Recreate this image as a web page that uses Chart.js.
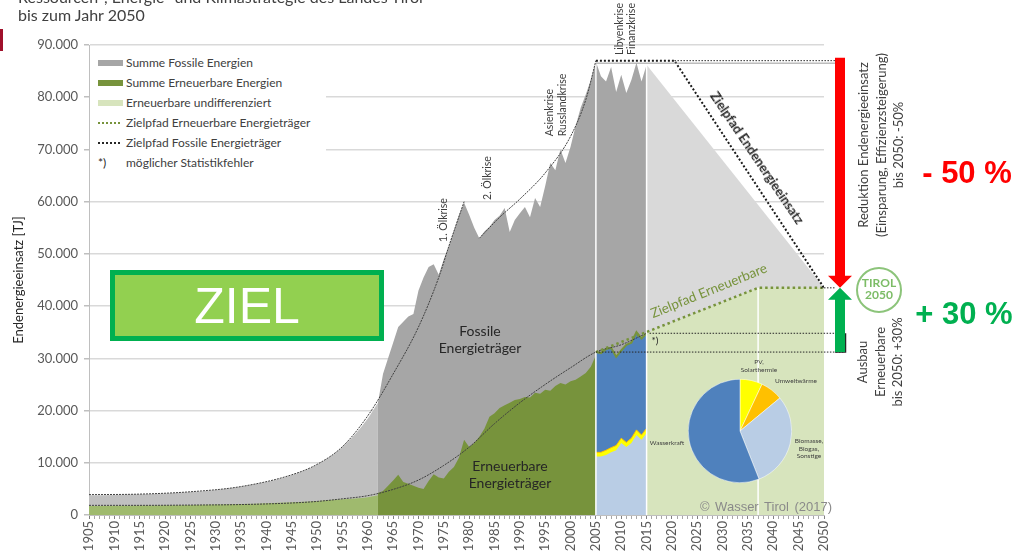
<!DOCTYPE html>
<html lang="de">
<head>
<meta charset="utf-8">
<title>Endenergieeinsatz Tirol 1905–2050</title>
<script src="https://cdn.jsdelivr.net/npm/chart.js@4.4.1/dist/chart.umd.min.js"></script>
<style>
  body { margin: 0; background: #fff; }
  #wrap { position: relative; width: 1017px; height: 555px; overflow: hidden; font-family: Lato, "Open Sans", sans-serif; color: #404040; }
  #wrap canvas { position: absolute; left: 0; top: 0; }
  .t { position: absolute; white-space: nowrap; line-height: 1; transform: translate(-50%, -50%); text-align: center; }
  .r90 { transform: translate(-50%, -50%) rotate(-90deg); }
  #legend { position: absolute; left: 90px; top: 50px; width: 236px; height: 124px; background: #fff; font-size: 12px; color: #404040; }
  .li { position: absolute; left: 8px; height: 20px; line-height: 20px; display: flex; align-items: center; white-space: nowrap; }
  .sw { display: inline-block; width: 25px; height: 6px; margin-right: 3px; }
  .dot { display: inline-block; width: 22px; height: 0; border-top: 2px dotted; margin-right: 6px; }
  #ziel { position: absolute; left: 110px; top: 270px; width: 274px; height: 71px; box-sizing: border-box; border: 5px solid #00b050; background: #92d050; color: #fff; font: 50px "Liberation Sans", Arial, sans-serif; text-align: center; line-height: 62px; }
  #logo { position: absolute; left: 856px; top: 267px; width: 46px; height: 46px; box-sizing: border-box; border: 2px solid #8cc47a; border-radius: 50%; color: #7cbc66; font-weight: bold; font-size: 12px; text-align: center; line-height: 12px; padding-top: 8px; }
  .big { font: bold 31px "Liberation Sans", Arial, sans-serif; }
</style>
</head>
<body>
<div id="wrap">
  <canvas id="main" width="1017" height="555"></canvas>
  <canvas id="pie" width="104" height="104" style="left:688px; top:379px;"></canvas>

  <div style="position:absolute; left:18px; top:-12px; font-size:16px; line-height:18px; color:#404040;">Ressourcen-, Energie- und Klimastrategie des Landes Tirol<br>bis zum Jahr 2050</div>
  <div style="position:absolute; left:0; top:29px; width:3px; height:22px; background:#a0102b;"></div>

  <div id="legend">
    <div class="li" style="top:3px"><span class="sw" style="background:#a6a6a6"></span>Summe Fossile Energien</div>
    <div class="li" style="top:23px"><span class="sw" style="background:#77933c"></span>Summe Erneuerbare Energien</div>
    <div class="li" style="top:43px"><span class="sw" style="background:#d7e4bd"></span>Erneuerbare undifferenziert</div>
    <div class="li" style="top:63px"><span class="dot" style="border-color:#77933c"></span>Zielpfad Erneuerbare Energieträger</div>
    <div class="li" style="top:83px"><span class="dot" style="border-color:#262626"></span>Zielpfad Fossile Energieträger</div>
    <div class="li" style="top:103px"><span style="display:inline-block; width:28px; color:#262626;">*)</span>möglicher Statistikfehler</div>
  </div>

  <div id="ziel">ZIEL</div>

  <div class="t" style="left:480px; top:339px; font-size:14px; line-height:17px; color:#262626;">Fossile<br>Energieträger</div>
  <div class="t" style="left:510px; top:474px; font-size:14px; line-height:17px; color:#262626;">Erneuerbare<br>Energieträger</div>

  <div class="t r90" style="left:443px; top:220px; font-size:10.5px;">1. Ölkrise</div>
  <div class="t r90" style="left:487px; top:178px; font-size:10.5px;">2. Ölkrise</div>
  <div class="t r90" style="left:556px; top:105px; font-size:10.5px; line-height:13px; text-align:left;">Asienkrise<br>Russlandkrise</div>
  <div class="t r90" style="left:625px; top:29px; font-size:10.5px; line-height:12px;">Libyenkrise<br>Finanzkrise</div>

  <div class="t" style="left:757px; top:158px; font-size:13px; font-weight:bold; color:#262626; transform:translate(-50%,-50%) rotate(56deg);">Zielpfad Endenergieeinsatz</div>
  <div class="t" style="left:709px; top:291px; font-size:13.5px; color:#77933c; transform:translate(-50%,-50%) rotate(-22deg);">Zielpfad Erneuerbare</div>
  <div class="t" style="left:655px; top:340px; font-size:10px; color:#262626;">*)</div>

  <div class="t" style="left:759px; top:366px; font-size:6.5px; line-height:8px;">PV,<br>Solarthermie</div>
  <div class="t" style="left:796px; top:381px; font-size:6.5px;">Umweltwärme</div>
  <div class="t" style="left:809px; top:448px; font-size:6.5px; line-height:7.5px;">Biomasse,<br>Biogas,<br>Sonstige</div>
  <div class="t" style="left:667px; top:443px; font-size:6.5px;">Wasserkraft</div>
  <div class="t" style="left:766px; top:506px; font:13px 'Liberation Sans', Arial, sans-serif; word-spacing:2px; color:#8a8a8a;">© Wasser Tirol (2017)</div>

  <div class="t r90" style="left:881px; top:145px; font-size:13px; line-height:17.5px; color:#404040;">Reduktion Endenergieeinsatz<br>(Einsparung, Effizienzsteigerung)<br>bis 2050: -50%</div>
  <div class="t r90" style="left:880px; top:362px; font-size:13px; line-height:17.5px; color:#404040;">Ausbau<br>Erneuerbare<br>bis 2050: +30%</div>
  <div class="t big" style="left:967px; top:173px; color:#ff0000;">- 50 %</div>
  <div class="t big" style="left:964px; top:314px; color:#00b050;">+ 30 %</div>
  <div id="logo">TIROL<br>2050</div>
</div>

<script>
const range = (a, b) => Array.from({ length: b - a + 1 }, (_, i) => a + i);

// estimated history (lighter colours)
const histYears = [1905, 1910, 1915, 1920, 1925, 1930, 1935, 1940, 1945, 1950, 1955, 1960, 1962];
const histTotal = [3800, 3850, 3950, 4100, 4400, 4800, 5400, 6300, 7600, 9600, 13000, 18500, 21500];
const histRenew = [1700, 1750, 1800, 1850, 1900, 2000, 2100, 2250, 2450, 2700, 3000, 3400, 3800];

// total final energy 1962-2015
const measYears = range(1962, 2015);
const measTotal = [
  21500, 27000, 30000, 33000, 36000, 37000, 38000, 38500, 43000, 45500,
  47500, 48000, 46000, 49000, 51500, 54500, 57500, 59800, 57500, 55000,
  53000, 54300, 55200, 56500, 57300, 58800, 54200, 56500, 57800, 59000,
  57000, 60700, 59000, 63000, 67400, 66000, 70000, 67400, 70500, 74500,
  78000, 80500, 83300, 86800, 84000, 83000, 85800, 81000, 84300, 80800,
  83300, 86600, 83000, 86200
];

// renewables 1962-2005
const renewYears = range(1962, 2005);
const renewValues = [
  4200, 4600, 5600, 6600, 7700, 6300, 6000, 5600, 5200, 5000,
  6500, 7800, 7200, 7000, 8300, 9200, 11000, 14400, 13000, 13800,
  15000, 16500, 18800, 19500, 20500, 21000, 21500, 22000, 22200, 22600,
  22500, 23400, 23200, 24000, 23800, 24700, 25300, 25000, 25600, 25900,
  26500, 27200, 28400, 30600
];

// renewables split 2005-2015
const splitYears = range(2005, 2015);
const splitRenew = [31200, 31000, 31800, 32000, 30300, 31500, 32600, 33000, 35000, 33800, 34800];
const splitSolar = [12000, 12000, 12400, 12900, 13300, 14700, 13900, 14700, 16300, 15300, 16600];
const splitBiomass = [11200, 11200, 11500, 12000, 12400, 13800, 13000, 13800, 15300, 14400, 15700];

// trend curves
const trendTotalYearsA = [1905, 1915, 1925, 1935, 1945, 1950, 1955, 1960, 1965, 1970, 1974, 1976, 1979];
const trendTotalValuesA = [3900, 4000, 4450, 5450, 7700, 9700, 13100, 19000, 27000, 36000, 45500, 51500, 60000];
const trendTotalYearsB = [1982, 1986, 1990, 1995, 2000, 2003, 2005];
const trendTotalValuesB = [53000, 57000, 60500, 65500, 72500, 79500, 87000];
const trendRenewYears = [1905, 1915, 1925, 1935, 1945, 1950, 1955, 1960, 1965, 1970, 1975, 1980, 1985, 1990, 1995, 2000, 2005, 2010, 2015];
const trendRenewValues = [1850, 1850, 1900, 2000, 2300, 2600, 3100, 3700, 4900, 6700, 9500, 13000, 17500, 21500, 25000, 28200, 31200, 32600, 34800];

// target paths to 2050
const targetTotalYears = [2005, 2020.5, 2050];
const targetTotalValues = [87000, 87000, 43500];
const targetAreaYears = [2015, 2050];
const targetAreaValues = [86200, 43500];
const targetRenewYears = [2005, 2037, 2050];
const targetRenewValues = [31200, 43500, 43500];
const targetRenewAreaYears = [2015, 2037, 2050];
const targetRenewAreaValues = [34900, 43500, 43500];

// share of renewables (pie)
const pieLabels = ['PV, Solarthermie', 'Umweltwärme', 'Biomasse, Biogas, Sonstige', 'Wasserkraft'];
const pieValues = [7, 7, 30, 56];

const pts = (xs, ys) => xs.map((x, i) => ({ x: x, y: ys[i] }));

function area(xs, ys, color, order, extra) {
  return Object.assign({
    data: pts(xs, ys), backgroundColor: color, borderColor: color, borderWidth: 0,
    fill: 'origin', pointRadius: 0, tension: 0, order: order
  }, extra || {});
}

function line(xs, ys, color, width, dash, order, smooth) {
  return {
    data: pts(xs, ys), borderColor: color, borderWidth: width, borderDash: dash,
    fill: false, pointRadius: 0, tension: 0,
    cubicInterpolationMode: smooth ? 'monotone' : 'default', order: order
  };
}

function separator(year, top) {
  return line([year, year], [0, top], '#ffffff', 1.5, [], 10, false);
}

const datasets = [
  area(targetAreaYears, targetAreaValues, '#d9d9d9', 20),
  area(histYears, histTotal, '#c0c0c0', 19, { cubicInterpolationMode: 'monotone' }),
  area(measYears, measTotal, '#a6a6a6', 19),
  area(targetRenewAreaYears, targetRenewAreaValues, '#d7e4bd', 18),
  area(histYears, histRenew, '#9fba6e', 17, { cubicInterpolationMode: 'monotone' }),
  area(renewYears, renewValues, '#77933c', 17),
  area(splitYears, splitRenew, '#4f81bd', 16, { borderColor: '#77933c', borderWidth: 2 }),
  area(splitYears, splitSolar, '#ffff00', 15, { borderColor: '#ffc000', borderWidth: 1 }),
  area(splitYears, splitBiomass, '#b9cde5', 14),
  separator(2005, measTotal[43]),
  separator(2015, measTotal[53]),
  separator(2037, targetRenewValues[1]),
  line(trendTotalYearsA, trendTotalValuesA, '#404040', 1, [2, 1], 5, true),
  line(trendTotalYearsB, trendTotalValuesB, '#404040', 1, [2, 1], 5, true),
  line(trendRenewYears, trendRenewValues, '#404040', 1, [2, 1], 5, true),
  line(targetRenewYears, targetRenewValues, '#77933c', 2.5, [2.5, 3], 2, false),
  line(targetTotalYears, targetTotalValues, '#1a1a1a', 2, [2, 2], 1, false)
];

function arrow(ctx, x, y0, y1, color) {
  const dir = Math.sign(y1 - y0), head = 12, half = 12, shaft = 5;
  ctx.fillStyle = color;
  ctx.beginPath();
  ctx.moveTo(x - shaft, y0);
  ctx.lineTo(x + shaft, y0);
  ctx.lineTo(x + shaft, y1 - dir * head);
  ctx.lineTo(x + half, y1 - dir * head);
  ctx.lineTo(x, y1);
  ctx.lineTo(x - half, y1 - dir * head);
  ctx.lineTo(x - shaft, y1 - dir * head);
  ctx.closePath();
  ctx.fill();
}

const extras = {
  id: 'extras',
  afterDatasetsDraw(chart) {
    const { ctx, scales: { x, y } } = chart;
    const ax = x.right + 16;
    const yTop = y.getPixelForValue(targetTotalValues[0]);
    const yGoal = y.getPixelForValue(targetTotalValues[2]);
    const yR05 = y.getPixelForValue(splitRenew[0]);
    const yR15 = y.getPixelForValue(splitRenew[splitRenew.length - 1]);
    const hline = (x0, x1, yy) => { ctx.beginPath(); ctx.moveTo(x0, yy); ctx.lineTo(x1, yy); ctx.stroke(); };
    ctx.save();
    ctx.strokeStyle = '#9a9a9a';
    ctx.lineWidth = 1;
    hline(x.getPixelForValue(2005), ax - 5, yTop + 2.5);
    ctx.strokeStyle = '#262626';
    ctx.setLineDash([1.5, 1.5]);
    hline(x.getPixelForValue(2020.5), ax - 5, yTop);
    hline(x.right - 3, ax - 5, yGoal);
    hline(x.getPixelForValue(2015) + 3, ax + 5, yR15);
    hline(x.getPixelForValue(2005), ax + 5, yR05);
    ctx.setLineDash([]);
    ctx.lineWidth = 1.5;
    ctx.beginPath();
    ctx.moveTo(ax + 5.5, yR15);
    ctx.lineTo(ax + 5.5, yR05);
    ctx.lineTo(ax - 5, yR05);
    ctx.stroke();
    arrow(ctx, ax, yTop - 3, yGoal, '#ff0000');
    arrow(ctx, ax, yR05, yGoal, '#00b050');
    ctx.restore();
  }
};

Chart.defaults.font.family = "Lato, 'Open Sans', sans-serif";
Chart.defaults.color = '#595959';

new Chart(document.getElementById('main'), {
  type: 'line',
  data: { datasets: datasets },
  options: {
    responsive: false,
    animation: false,
    layout: { padding: { top: 45, right: 193, bottom: 0, left: 0 } },
    plugins: { legend: { display: false }, tooltip: { enabled: false } },
    scales: {
      x: {
        type: 'linear', min: 1905, max: 2050,
        afterFit: s => { s.height = 40; },
        border: { color: '#bfbfbf' },
        grid: {
          drawOnChartArea: false, tickLength: 4,
          tickColor: c => (c.tick && c.tick.value % 5 === 0) ? '#808080' : '#a6a6a6'
        },
        ticks: {
          stepSize: 1, autoSkip: false, minRotation: 90, maxRotation: 90, padding: 2,
          font: { size: 13 },
          callback: v => v % 5 === 0 ? String(v) : ''
        }
      },
      y: {
        min: 0, max: 90000,
        afterFit: s => { s.width = 89; },
        border: { color: '#bfbfbf' },
        grid: { color: '#d9d9d9', lineWidth: 1.5, tickLength: 5, tickColor: '#bfbfbf' },
        ticks: {
          stepSize: 10000, padding: 6, font: { size: 13 },
          callback: v => v === 0 ? '0' : (v / 1000) + '.000'
        },
        title: {
          display: true, text: 'Endenergieeinsatz [TJ]', color: '#262626',
          font: { size: 13 }, padding: { top: 11, bottom: 0 }
        }
      }
    }
  },
  plugins: [extras]
});

new Chart(document.getElementById('pie'), {
  type: 'pie',
  data: {
    labels: pieLabels,
    datasets: [{
      data: pieValues,
      backgroundColor: ['#ffff00', '#ffc000', '#b9cde5', '#4f81bd'],
      borderColor: '#ffffff',
      borderWidth: 0.5
    }]
  },
  options: {
    responsive: false,
    animation: false,
    layout: { padding: 0 },
    plugins: { legend: { display: false }, tooltip: { enabled: false } }
  }
});
</script>
</body>
</html>
